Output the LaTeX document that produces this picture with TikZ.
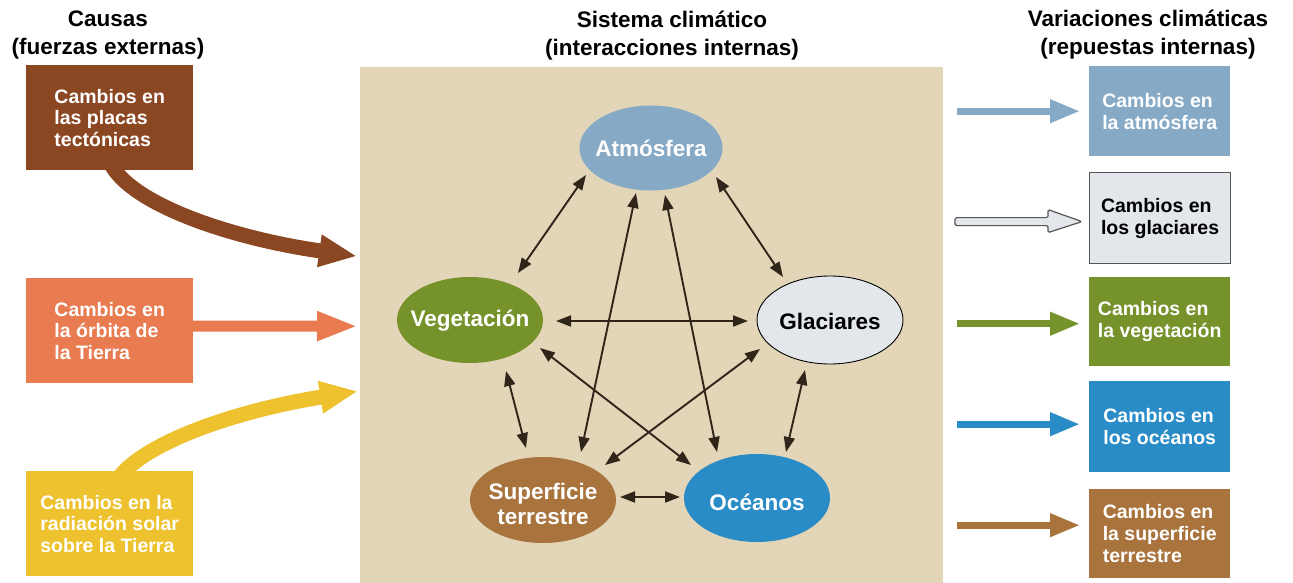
\documentclass[tikz,border=0pt]{standalone}
\usepackage{fontspec}
\setmainfont{Liberation Sans}
\usetikzlibrary{arrows.meta,calc,shapes.geometric}
\definecolor{beige}{HTML}{E3D5B7}
\definecolor{tectc}{HTML}{8B4722}
\definecolor{orbc}{HTML}{E97B50}
\definecolor{solc}{HTML}{EEC22F}
\definecolor{atmc}{HTML}{86A9C5}
\definecolor{vegc}{HTML}{76922A}
\definecolor{glacc}{HTML}{E3E7EB}
\definecolor{supc}{HTML}{A9733D}
\definecolor{ocec}{HTML}{2A8CC6}
\definecolor{arrc}{HTML}{2F2519}
\definecolor{glacline}{HTML}{555555}
\tikzset{
  titletext/.style={font=\fontsize{22.5}{28}\selectfont\bfseries, align=center, inner sep=0pt},
  lbox/.style={rectangle, minimum width=167pt, minimum height=105pt, inner sep=0pt, align=left, text=white,
    font=\fontsize{19.5}{21.5}\selectfont\bfseries, anchor=north west},
  rbox/.style={rectangle, minimum width=141pt, inner sep=0pt, align=left, text=white,
    font=\fontsize{19.5}{22}\selectfont\bfseries, anchor=north west},
  ell/.style={ellipse, inner sep=0pt},
  elltext/.style={inner sep=0pt, align=center, text=white, font=\fontsize{22.5}{25}\selectfont\bfseries},
  dbl/.style={draw=arrc, line width=1.9pt, arrows={Triangle[length=15pt,width=11pt]-Triangle[length=15pt,width=11pt]}},
  bigarr/.style={line width=#1, arrows={-Triangle[length=38pt,width=30pt]}},
  rarr/.style={draw=#1, line width=7pt, arrows={-Triangle[length=30pt,width=22pt]}},
}
\begin{document}
\begin{tikzpicture}[x=1pt,y=-1pt]
\useasboundingbox (0,0) rectangle (1293,583);
\fill[white] (0,0) rectangle (1293,583);

% titles
\node[titletext] (t1) at (108,35) {Causas\\(fuerzas externas)};
\node[titletext] (t2) at (672,36) {Sistema climático\\(interacciones internas)};
\node[titletext] (t3) at (1148,35) {Variaciones climáticas\\(repuestas internas)};

% system box
\node[fill=beige, minimum width=583pt, minimum height=516pt, inner sep=0pt, anchor=north west] (sys) at (360,67) {};

% left arrows (drawn before boxes)
\draw[bigarr=15pt, draw=tectc] (112,166) .. controls (135,205) and (230,238) .. ($(sys.west)+(-3,-69)$);
\draw[draw=orbc, line width=11pt, arrows={-Triangle[length=41pt,width=27pt]}] (190,326) -- ($(sys.west)+(-2,1)$);
\draw[bigarr=15pt, draw=solc] (120,476) .. controls (150,440) and (240,410) .. ($(sys.west)+(-2,66)$);

% cause boxes
\node[lbox, fill=tectc] (c1) at (26,65) {Cambios en\\las placas\\tectónicas};
\node[lbox, fill=orbc] (c2) at (26,278) {Cambios en\\la órbita de\\la Tierra};
\node[lbox, fill=solc] (c3) at (26,471) {Cambios en la\\radiación solar\\sobre la Tierra};

% ellipses
\node[ell, fill=atmc, minimum width=143pt, minimum height=85pt,
      label={[elltext]center:Atmósfera}] (atm) at (651,148) {};
\node[ell, fill=vegc, minimum width=146pt, minimum height=86pt,
      label={[elltext, yshift=-1pt]center:Vegetación}] (veg) at (470,320) {};
\node[ell, fill=glacc, draw=black, line width=0.9pt, minimum width=146pt, minimum height=88pt,
      label={[elltext, text=black, yshift=-1pt]center:Glaciares}] (glac) at (830,320) {};
\node[ell, fill=supc, minimum width=146pt, minimum height=86pt,
      label={[elltext, yshift=-4pt]center:Superficie\\terrestre}] (sup) at (543,500) {};
\node[ell, fill=ocec, minimum width=146pt, minimum height=88pt,
      label={[elltext, yshift=-4pt]center:Océanos}] (oce) at (757,498) {};

% interactions
\draw[dbl] ($(atm)+(-65,27)$) -- ($(veg)+(48,-47)$);
\draw[dbl] ($(atm)+(65,29)$) -- ($(glac)+(-47,-43)$);
\draw[dbl] ($(atm)+(-15,45)$) -- ($(sup)+(38,-48)$);
\draw[dbl] ($(atm)+(14,47)$) -- ($(oce)+(-40,-46)$);
\draw[dbl] ($(veg)+(86,1)$) -- ($(glac)+(-82,1)$);
\draw[dbl] ($(veg)+(70,28)$) -- ($(oce)+(-66,-33)$);
\draw[dbl] ($(glac)+(-70,29)$) -- ($(sup)+(62,-35)$);
\draw[dbl] ($(veg)+(36,51)$) -- ($(sup)+(-17,-52)$);
\draw[dbl] ($(glac)+(-25,50)$) -- ($(oce)+(29,-46)$);
\draw[dbl] ($(sup)+(77,-3)$) -- ($(oce)+(-77,-1)$);

% response boxes
\node[rbox, fill=atmc, minimum height=90pt] (ra) at (1089,66) {Cambios en\\la atmósfera};
\node[rbox, fill=glacc, draw=glacline, line width=1.2pt, text=black, minimum height=91pt] (rg) at (1089,172) {Cambios en\\los glaciares};
\node[rbox, fill=vegc, minimum height=89pt] (rv) at (1089,277) {Cambios en\\la vegetación};
\node[rbox, fill=ocec, minimum height=91pt] (ro) at (1089,381) {Cambios en\\los océanos};
\node[rbox, fill=supc, minimum height=89pt] (rs) at (1089,489) {Cambios en\\la superficie\\terrestre};

% response arrows
\draw[rarr=atmc] ($(ra.west)+(-132,0)$) -- ($(ra.west)+(-9,0)$);
\begin{scope}[shift={(rg.west)}]
  \draw[fill=glacc, draw=glacline, line width=1.2pt, rounded corners=1.5pt]
    (-134,-0.5) -- (-41,-0.5) -- (-41,-8.5) -- (-7,3.5) -- (-41,14.5) -- (-41,7.5) -- (-134,7.5) -- cycle;
\end{scope}
\draw[rarr=vegc] ($(rv.west)+(-132,2)$) -- ($(rv.west)+(-9,2)$);
\draw[rarr=ocec] ($(ro.west)+(-132,-2.5)$) -- ($(ro.west)+(-9,-2.5)$);
\draw[rarr=supc] ($(rs.west)+(-132,-8.5)$) -- ($(rs.west)+(-9,-8.5)$);
\end{tikzpicture}
\end{document}
